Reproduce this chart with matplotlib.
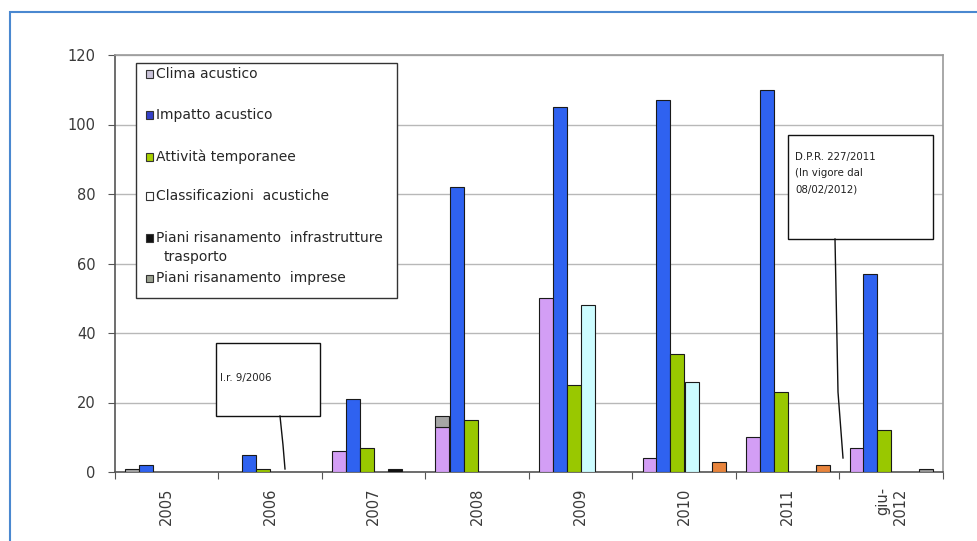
import matplotlib
matplotlib.use("Agg")
import matplotlib.pyplot as plt
from matplotlib.patches import Rectangle
from matplotlib.lines import Line2D
import numpy as np

# --- data -------------------------------------------------------------
anni = ['2005', '2006', '2007', '2008', '2009', '2010', '2011', 'giu-\n2012']
clima = [0, 0, 6, 13, 50, 4, 10, 7]
clima_agg = [1, 0, 0, 3, 0, 0, 0, 0]          # segment drawn on top of Clima
impatto = [2, 5, 21, 82, 105, 107, 110, 57]
attivita = [0, 1, 7, 15, 25, 34, 23, 12]
classificazioni = [0, 0, 0, 0, 48, 26, 0, 0]
piani_infr = [0, 0, 1, 0, 0, 0, 0, 0]
piani_imprese = [0, 0, 0, 0, 0, 3, 2, 1]

nomi = ['Clima acustico', 'Impatto acustico', 'Attività temporanee',
        'Classificazioni  acustiche',
        'Piani risanamento  infrastrutture\ntrasporto',
        'Piani risanamento  imprese']
y_ticks = [0, 20, 40, 60, 80, 100, 120]

# --- styles -----------------------------------------------------------
col_clima = '#d39ef5'
col_agg = '#a6a6a6'
col_impatto = '#2f62f0'
col_attivita = '#99c800'
col_class = '#ccfcff'
col_infr = '#111111'
col_imprese = ['#e8843c', '#e8843c', '#e8843c', '#e8843c', '#e8843c',
               '#e8843c', '#e8843c', '#9a9a9a']
legend_cols = ['#c9c2d8', '#3540c8', '#a8d000', '#ffffff', '#111111', '#9aa090']

W, H = 978, 541
plt.rcParams['font.family'] = ['DejaVu Sans']

fig = plt.figure(figsize=(W / 100, H / 100), dpi=100)
fig.patch.set_facecolor('white')


def fx(x):
    return x / W


def fy(y):
    return 1 - y / H


ax = fig.add_axes([fx(115), fy(472), fx(943) - fx(115), fy(55) - fy(472)])

n = len(anni)
x = np.arange(n)
bw = 14 / 103.5
start = 10 / 103.5 - 0.5


def pos(i):
    return x + start + (i + 0.5) * bw


def draw(i, vals, color, bottom=None):
    vals = np.asarray(vals, float)
    b = np.zeros(n) if bottom is None else np.asarray(bottom, float)
    m = vals > 0
    cols = np.array(color if isinstance(color, list) else [color] * n)
    ax.bar(pos(i)[m], vals[m], width=bw, bottom=b[m], color=cols[m],
           edgecolor='#1a1a1a', linewidth=0.8, zorder=3)


draw(0, clima, col_clima)
draw(0, clima_agg, col_agg, bottom=clima)
draw(1, impatto, col_impatto)
draw(2, attivita, col_attivita)
draw(3, classificazioni, col_class)
draw(4, piani_infr, col_infr)
draw(5, piani_imprese, col_imprese)

ax.set_xlim(-0.5, n - 0.5)
ax.set_ylim(0, 120)
ax.set_yticks(y_ticks)
ax.yaxis.grid(True, color='#b8b8b8', linewidth=1.0, zorder=0)
ax.set_axisbelow(True)
ax.tick_params(axis='y', labelsize=10.5, labelcolor='#3a3a3a', length=5,
               color='#555555', pad=9)

# category separators as ticks, labels at centres
ax.set_xticks(np.arange(-0.5, n, 1.0))
ax.set_xticklabels([])
ax.set_xticks(x, minor=True)
ax.set_xticklabels(anni, minor=True, rotation=90, fontsize=10.5,
                   color='#3a3a3a', va='top', ha='center', multialignment='right')
ax.tick_params(axis='x', which='major', length=5, color='#555555')
ax.tick_params(axis='x', which='minor', length=0, pad=11)

for s in ['left', 'bottom']:
    ax.spines[s].set_color('#555555')
    ax.spines[s].set_linewidth(1.2)
for s in ['top', 'right']:
    ax.spines[s].set_color('#9a9a9a')
    ax.spines[s].set_linewidth(1.2)

# --- legend box ---------------------------------------------------------
fig.patches.append(Rectangle((fx(136), fy(298)), fx(397) - fx(136),
                             fy(63) - fy(298), transform=fig.transFigure,
                             facecolor='white', edgecolor='#333333',
                             linewidth=1.0, zorder=5))
leg_y = [74, 115, 157, 196, 238, 278]
for name, yc, c in zip(nomi, leg_y, legend_cols):
    fig.patches.append(Rectangle((fx(146), fy(yc + 3.5)), fx(7), 7 / H,
                                 transform=fig.transFigure, facecolor=c,
                                 edgecolor='#333333', linewidth=0.8, zorder=6))
    lines = name.split('\n')
    fig.text(fx(156), fy(yc), lines[0], fontsize=10, color='#262626',
             va='center', ha='left', zorder=7)
    if len(lines) > 1:
        fig.text(fx(164), fy(yc + 19), lines[1], fontsize=10, color='#262626',
                 va='center', ha='left', zorder=7)

# --- annotation boxes ---------------------------------------------------
fig.patches.append(Rectangle((fx(216), fy(416)), fx(320) - fx(216),
                             fy(343) - fy(416), transform=fig.transFigure,
                             facecolor='white', edgecolor='#111111',
                             linewidth=1.0, zorder=5))
fig.text(fx(220), fy(378), 'l.r. 9/2006', fontsize=7.4, color='#222222',
         va='center', ha='left', zorder=7)
fig.lines.append(Line2D([fx(280), fx(283), fx(285)], [fy(416), fy(445), fy(469)],
                        transform=fig.transFigure, color='#111111',
                        linewidth=1.0, zorder=6))

fig.patches.append(Rectangle((fx(788), fy(239)), fx(933) - fx(788),
                             fy(135) - fy(239), transform=fig.transFigure,
                             facecolor='white', edgecolor='#111111',
                             linewidth=1.0, zorder=5))
for k, line in enumerate(['D.P.R. 227/2011', '(In vigore dal', '08/02/2012)']):
    fig.text(fx(795), fy(157 + 16.5 * k), line, fontsize=7.4, color='#222222',
             va='center', ha='left', zorder=7)
fig.lines.append(Line2D([fx(835), fx(838), fx(843)], [fy(239), fy(392), fy(458)],
                        transform=fig.transFigure, color='#111111',
                        linewidth=1.0, zorder=6))

# --- outer frame --------------------------------------------------------
fig.patches.append(Rectangle((fx(10), fy(H + 5)), fx(W + 10) - fx(10),
                             fy(12) - fy(H + 5), transform=fig.transFigure,
                             facecolor='none', edgecolor='#4a88d0',
                             linewidth=1.5, zorder=8))

fig.savefig('out.png', dpi=100)
